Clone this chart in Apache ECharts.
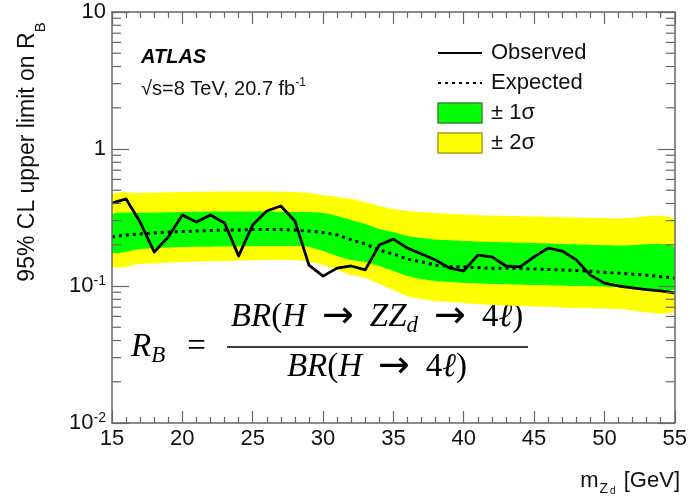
<!DOCTYPE html>
<html>
<head>
<meta charset="utf-8">
<title>95% CL upper limit on R_B</title>
<script src="https://cdn.jsdelivr.net/npm/echarts@6/dist/echarts.min.js"></script>
<style>
  html, body { margin: 0; padding: 0; background: #ffffff; }
  #chart { width: 690px; height: 496px; }
</style>
</head>
<body>
<div id="chart"></div>
<script>
// Z_d mass hypotheses of the scan [GeV]
const massPoints = [15, 16, 17, 18, 19, 20, 21, 22, 23, 24, 25, 26, 27, 28, 29, 30, 31, 32, 33, 34, 35,
                    36, 37, 38, 39, 40, 41, 42, 43, 44, 45, 46, 47, 48, 49, 50, 51, 52, 53, 54, 55];

// Observed 95% CL upper limit on R_B
const observed = [0.403, 0.432, 0.293, 0.177, 0.228, 0.330, 0.293, 0.330, 0.288, 0.166, 0.279,
                  0.353, 0.384, 0.298, 0.142, 0.118, 0.135, 0.140, 0.131, 0.199, 0.220,
                  0.189, 0.171, 0.155, 0.135, 0.129, 0.168, 0.163, 0.140, 0.138, 0.163,
                  0.189, 0.180, 0.155, 0.120, 0.105, 0.100, 0.097, 0.094, 0.092, 0.089];

// Median expected limit
const expected = [0.228, 0.236, 0.240, 0.244, 0.248, 0.250, 0.252, 0.254, 0.256, 0.256, 0.258,
                  0.258, 0.258, 0.256, 0.252, 0.246, 0.236, 0.217, 0.203, 0.183, 0.171,
                  0.157, 0.150, 0.142, 0.139, 0.138, 0.136, 0.135, 0.135, 0.134, 0.133,
                  0.132, 0.131, 0.130, 0.128, 0.126, 0.124, 0.122, 0.120, 0.117, 0.114];

// Expected-limit uncertainty bands
const bandMass = [15, 17, 20, 23, 26, 28, 29, 30, 31, 32, 33, 34, 35, 36, 37, 38, 40, 42, 45, 48, 51, 55];
const plus2Sigma  = [0.4615, 0.4773, 0.4853, 0.4894, 0.4894, 0.4853, 0.4773, 0.4615, 0.4463, 0.4315, 0.4103,
                     0.3836, 0.3648, 0.3527, 0.3468, 0.3410, 0.3325, 0.3270, 0.3215, 0.3162, 0.3110, 0.3032];
const plus1Sigma  = [0.3297, 0.3410, 0.3468, 0.3498, 0.3498, 0.3468, 0.3468, 0.3410, 0.3243, 0.3032, 0.2835,
                     0.2606, 0.2478, 0.2317, 0.2240, 0.2184, 0.2130, 0.2095, 0.2060, 0.2009, 0.1975, 0.1926];
const minus1Sigma = [0.1771, 0.1862, 0.1926, 0.1942, 0.1959, 0.1959, 0.1926, 0.1801, 0.1656, 0.1548, 0.1497,
                     0.1400, 0.1287, 0.1183, 0.1125, 0.1088, 0.1052, 0.1034, 0.1017, 0.1000, 0.0983, 0.0950];
const minus2Sigma = [0.1400, 0.1447, 0.1497, 0.1522, 0.1548, 0.1548, 0.1497, 0.1423, 0.1308, 0.1203, 0.1144,
                     0.1034, 0.0935, 0.0845, 0.0804, 0.0777, 0.0751, 0.0727, 0.0709, 0.0691, 0.0679, 0.0668];

// Axis ranges and tick labels
const xRange = [15, 55];
const xTickStep = 5;
const yRange = [0.01, 10];
const yTickLabels = { '-2': '{b|10}{s|-2}', '-1': '{b|10}{s|-1}', '0': '{b|1}', '1': '{b|10}' };
const yMinorTicks = [0.02, 0.03, 0.04, 0.05, 0.06, 0.07, 0.08, 0.09,
                     0.2, 0.3, 0.4, 0.5, 0.6, 0.7, 0.8, 0.9,
                     2, 3, 4, 5, 6, 7, 8, 9];

const SANS = '"Liberation Sans", Arial, Helvetica, sans-serif';
const SERIF = '"Liberation Serif", "Times New Roman", serif';
const ARROW_FONT = '"DejaVu Sans", sans-serif';
const AXIS_COLOR = '#666666';
const TEXT_COLOR = '#111111';
const GREEN = '#00ff00';
const YELLOW = '#ffff00';

const chart = echarts.init(document.getElementById('chart'), null, { renderer: 'canvas' });

// Closed polygon between an upper and a lower band edge
function bandRenderer(upper, lower, color) {
  return function (params, api) {
    if (params.dataIndex !== 0) return null;
    const pts = [];
    for (let i = 0; i < bandMass.length; i++) pts.push(api.coord([bandMass[i], upper[i]]));
    for (let i = bandMass.length - 1; i >= 0; i--) pts.push(api.coord([bandMass[i], lower[i]]));
    return { type: 'polygon', shape: { points: pts, smooth: 0.25 }, style: { fill: color } };
  };
}

const tickStyle = { color: AXIS_COLOR, width: 1.2 };
const axisLineStyle = { color: AXIS_COLOR, width: 1.5 };

function xAxisDef(position, showLabels) {
  return {
    type: 'value', position: position, min: xRange[0], max: xRange[1], interval: xTickStep, z: 10,
    axisLine: { show: true, onZero: false, lineStyle: axisLineStyle },
    axisTick: { show: true, inside: true, length: 12, lineStyle: tickStyle },
    minorTick: { show: true, splitNumber: 5, length: 6, lineStyle: tickStyle },
    axisLabel: { show: showLabels, margin: 5, fontSize: 22, fontFamily: SANS, color: TEXT_COLOR },
    splitLine: { show: false }, minorSplitLine: { show: false }
  };
}

function yAxisDef(position, showLabels) {
  return {
    type: 'log', logBase: 10, position: position, min: yRange[0], max: yRange[1], z: 10,
    axisLine: { show: true, onZero: false, lineStyle: axisLineStyle },
    axisTick: { show: true, inside: true, length: 17, lineStyle: tickStyle },
    axisLabel: {
      show: showLabels, margin: 6,
      formatter: function (v) { return yTickLabels[String(Math.round(Math.log10(v)))] || ''; },
      rich: {
        b: { fontSize: 22, lineHeight: 24, fontFamily: SANS, color: TEXT_COLOR },
        s: { fontSize: 14, lineHeight: 12, fontFamily: SANS, color: TEXT_COLOR, verticalAlign: 'top' }
      }
    },
    splitLine: { show: false }
  };
}

// line entries show only their stroke, no marker
const hiddenMarker = { color: 'rgba(0,0,0,0)', borderWidth: 0, opacity: 0 };

// shared rich styles of the R_B definition
const mathRich = {
  it: { fontSize: 33, lineHeight: 40, fontStyle: 'italic', fontFamily: SERIF, fill: '#000' },
  rm: { fontSize: 33, lineHeight: 40, fontFamily: SERIF, fill: '#000' },
  sub: { fontSize: 23, lineHeight: 23, fontStyle: 'italic', fontFamily: SERIF, fill: '#000', verticalAlign: 'bottom' },
  rel: { fontSize: 38, lineHeight: 40, fontFamily: ARROW_FONT, fill: '#000', padding: [0, 16, 0, 16] },
  eq: { fontSize: 33, lineHeight: 40, fontFamily: SERIF, fill: '#000', padding: [0, 0, 0, 22] }
};

const option = {
  animation: false,
  backgroundColor: '#ffffff',
  grid: { left: 112, right: 12, top: 12, bottom: 73, containLabel: false },
  xAxis: [xAxisDef('bottom', true), xAxisDef('top', false)],
  yAxis: [yAxisDef('left', true), yAxisDef('right', false)],
  legend: {
    orient: 'vertical', left: 437, top: 42, padding: 0,
    itemWidth: 44, itemHeight: 20, itemGap: 8, selectedMode: false,
    textStyle: { fontSize: 22, lineHeight: 22, fontFamily: SANS, color: TEXT_COLOR, padding: [0, 0, 0, 4] },
    data: [
      { name: 'Observed', itemStyle: hiddenMarker },
      { name: 'Expected', itemStyle: hiddenMarker },
      { name: '± 1σ', icon: 'rect', itemStyle: { color: GREEN, borderColor: '#2f8f2f', borderWidth: 1.5 } },
      { name: '± 2σ', icon: 'rect', itemStyle: { color: YELLOW, borderColor: '#a3a31c', borderWidth: 1.5 } }
    ]
  },
  series: [
    {
      name: '± 2σ', type: 'custom', xAxisIndex: 0, yAxisIndex: 0, z: 1, clip: true,
      itemStyle: { color: YELLOW },
      renderItem: bandRenderer(plus2Sigma, minus2Sigma, YELLOW),
      data: [[bandMass[0], plus2Sigma[0]]]
    },
    {
      name: '± 1σ', type: 'custom', xAxisIndex: 0, yAxisIndex: 0, z: 2, clip: true,
      itemStyle: { color: GREEN },
      renderItem: bandRenderer(plus1Sigma, minus1Sigma, GREEN),
      data: [[bandMass[0], plus1Sigma[0]]]
    },
    {
      name: 'Expected', type: 'line', xAxisIndex: 0, yAxisIndex: 0, z: 3,
      symbol: 'none', showSymbol: false,
      lineStyle: { color: '#000000', width: 3, type: [3, 4] },
      itemStyle: { color: '#000000' },
      data: massPoints.map((m, i) => [m, expected[i]])
    },
    {
      name: 'Observed', type: 'line', xAxisIndex: 0, yAxisIndex: 0, z: 4,
      symbol: 'none', showSymbol: false,
      lineStyle: { color: '#000000', width: 2.8, join: 'round' },
      itemStyle: { color: '#000000' },
      data: massPoints.map((m, i) => [m, observed[i]])
    },
    {
      // minor decade ticks on the left and right frame
      type: 'custom', xAxisIndex: 0, yAxisIndex: 0, z: 11, clip: false, silent: true,
      renderItem: function (params, api) {
        const l = api.coord([xRange[0], api.value(1)]);
        const r = api.coord([xRange[1], api.value(1)]);
        return {
          type: 'group',
          children: [
            { type: 'line', shape: { x1: l[0], y1: l[1], x2: l[0] + 9, y2: l[1] }, style: { stroke: AXIS_COLOR, lineWidth: 1.2 } },
            { type: 'line', shape: { x1: r[0], y1: r[1], x2: r[0] - 9, y2: r[1] }, style: { stroke: AXIS_COLOR, lineWidth: 1.2 } }
          ]
        };
      },
      data: yMinorTicks.map(v => [xRange[0], v])
    }
  ],
  graphic: [
    {
      type: 'text', x: 28, y: 152, rotation: Math.PI / 2,
      style: {
        text: '{a|95% CL upper limit on R}{b|B}', align: 'center', verticalAlign: 'middle',
        rich: {
          a: { fontSize: 23, lineHeight: 40, fontFamily: SANS, fill: TEXT_COLOR },
          b: { fontSize: 15, lineHeight: 10, fontFamily: SANS, fill: TEXT_COLOR, verticalAlign: 'bottom' }
        }
      }
    },
    {
      type: 'text', x: 680, y: 481,
      style: {
        text: '{m|m}{z|Z}{d|d}{g| [GeV]}', align: 'right', verticalAlign: 'middle',
        rich: {
          m: { fontSize: 22, lineHeight: 30, fontFamily: SANS, fill: TEXT_COLOR },
          z: { fontSize: 14, lineHeight: 14, fontFamily: SANS, fill: TEXT_COLOR, verticalAlign: 'bottom', padding: [0, 2, 0, 1] },
          d: { fontSize: 10, lineHeight: 4, fontFamily: SANS, fill: TEXT_COLOR, verticalAlign: 'bottom', padding: [0, 2, 0, 0] },
          g: { fontSize: 22, lineHeight: 30, fontFamily: SANS, fill: TEXT_COLOR }
        }
      }
    },
    {
      type: 'text', x: 141, y: 57,
      style: { text: 'ATLAS', fontSize: 20, fontWeight: 'bold', fontStyle: 'italic', fontFamily: SANS, fill: '#000000', verticalAlign: 'middle' }
    },
    {
      type: 'text', x: 141, y: 89,
      style: {
        text: '{t|√s=8 TeV, 20.7 fb}{s|-1}', verticalAlign: 'middle',
        rich: {
          t: { fontSize: 20, lineHeight: 24, fontFamily: SANS, fill: TEXT_COLOR },
          s: { fontSize: 12, lineHeight: 10, fontFamily: SANS, fill: TEXT_COLOR, verticalAlign: 'top' }
        }
      }
    },
    {
      type: 'text', x: 131, y: 347,
      style: { text: '{it|R}{sub|B}{eq|=}', verticalAlign: 'middle', rich: mathRich }
    },
    {
      type: 'text', x: 377, y: 317,
      style: {
        text: '{it|BR}{rm|(}{it|H}{rel|→}{it|ZZ}{sub|d}{rel|→}{rm|4}{it|ℓ}{rm|)}',
        align: 'center', verticalAlign: 'middle', rich: mathRich
      }
    },
    {
      type: 'line', shape: { x1: 227, y1: 347, x2: 528, y2: 347 }, style: { stroke: '#000', lineWidth: 1.6 }
    },
    {
      type: 'text', x: 377, y: 367,
      style: {
        text: '{it|BR}{rm|(}{it|H}{rel|→}{rm|4}{it|ℓ}{rm|)}',
        align: 'center', verticalAlign: 'middle', rich: mathRich
      }
    }
  ]
};

chart.setOption(option);
</script>
</body>
</html>
